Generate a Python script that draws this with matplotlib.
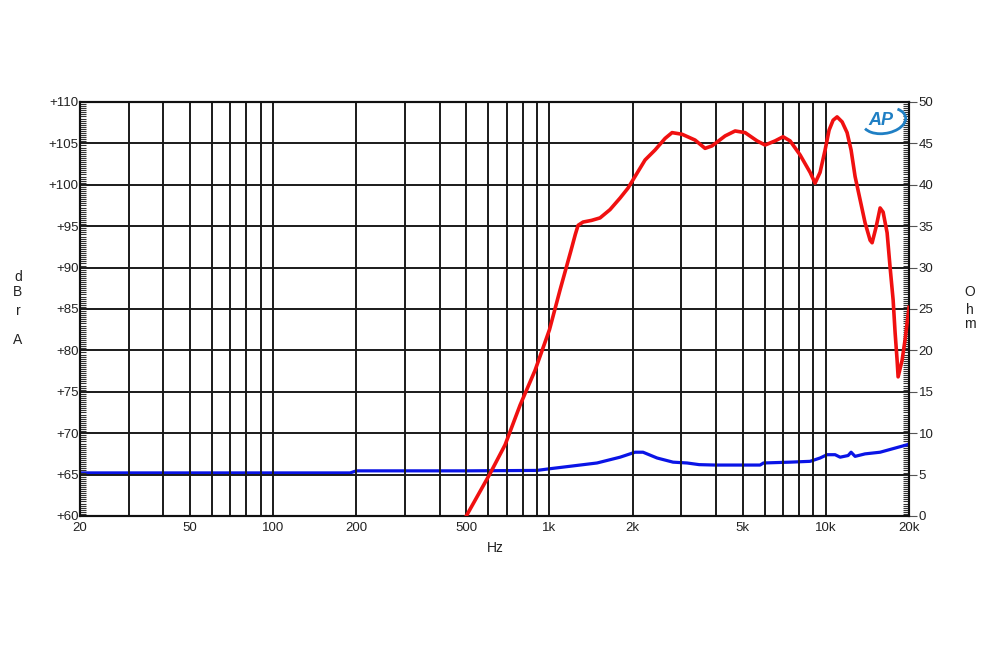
import matplotlib
matplotlib.use("Agg")
import matplotlib.pyplot as plt
import numpy as np
from matplotlib.ticker import FixedLocator, MultipleLocator, FuncFormatter
from matplotlib.patches import Arc

plt.rcParams['font.family'] = ['Liberation Sans', 'DejaVu Sans']

# response curve, dBrA (left axis)
spl_freq = [500, 609, 691, 783, 887, 1000, 1092, 1197, 1240, 1269, 1323, 1420, 1524, 1656, 1801,
            1924, 2006, 2218, 2410, 2620, 2777, 3020, 3364, 3656, 3876, 4320, 4696,
            5104, 5640, 6030, 6552, 7004, 7426, 8072, 8772, 9144, 9532, 9940, 10276,
            10626, 10986, 11454, 11940, 12344, 12762, 13306, 13872, 14464, 14708,
            15206, 15722, 16120, 16666, 17088, 17522, 17816, 18114, 18266, 18882,
            19360, 20000]
spl_db = [60.0, 65.1, 68.6, 73.4, 77.6, 82.5, 87.3, 92.1, 94.0, 95.1, 95.5, 95.7, 96.0, 97.0, 98.4,
          99.6, 100.6, 103.0, 104.2, 105.6, 106.3, 106.1, 105.4, 104.4, 104.7, 105.9, 106.5,
          106.3, 105.3, 104.8, 105.3, 105.8, 105.3, 103.6, 101.5, 100.2, 101.5, 104.2, 106.6,
          107.8, 108.2, 107.6, 106.3, 104.2, 101.0, 98.2, 95.4, 93.3, 93.0,
          94.9, 97.2, 96.7, 94.2, 90.0, 86.1, 82.1, 78.8, 76.8, 78.8,
          81.3, 85.2]

# impedance curve, Ohm (right axis)
imp_freq = [20, 50, 100, 190, 200, 500, 900, 1000, 1120, 1486, 1801, 2040, 2180, 2452,
            2800, 3146, 3480, 3976, 5782, 5950, 7426, 8772, 9532, 10106, 10804, 11266,
            12042, 12344, 12762, 13872, 15722, 17816, 19684, 20000]
imp_ohm = [5.2, 5.2, 5.2, 5.2, 5.45, 5.45, 5.5, 5.7, 5.9, 6.4, 7.1, 7.7, 7.7, 7.0,
           6.5, 6.4, 6.2, 6.15, 6.15, 6.4, 6.5, 6.6, 7.0, 7.4, 7.4, 7.1,
           7.3, 7.7, 7.2, 7.5, 7.7, 8.2, 8.6, 8.7]

grid_freqs = [m * 10 ** e for e in range(1, 5) for m in range(1, 10)]
grid_freqs = [f for f in grid_freqs if 20 <= f <= 20000]
x_labels = {20: "20", 50: "50", 100: "100", 200: "200", 500: "500",
            1000: "1k", 2000: "2k", 5000: "5k", 10000: "10k", 20000: "20k"}

fig = plt.figure(figsize=(10, 6.5), dpi=100)
ax = fig.add_axes([0.08, 0.2062, 0.829, 0.6369])
ax2 = ax.twinx()

ax.set_xscale("log")
ax.set_xlim(20, 20000)
ax.set_ylim(60, 110)
ax2.set_ylim(0, 50)

ax.xaxis.set_major_locator(FixedLocator(grid_freqs))
ax.xaxis.set_minor_locator(FixedLocator([]))
ax.xaxis.set_major_formatter(FuncFormatter(lambda v, p: x_labels.get(int(round(v)), "")))
ax.yaxis.set_major_locator(MultipleLocator(5))
ax.yaxis.set_minor_locator(MultipleLocator(0.25))
ax.yaxis.set_major_formatter(FuncFormatter(lambda v, p: f"+{v:.0f}"))
ax2.yaxis.set_major_locator(MultipleLocator(5))
ax2.yaxis.set_minor_locator(MultipleLocator(0.25))

ax.grid(True, which="major", color="#1a1a1a", linewidth=1.4)
ax.tick_params(axis="x", which="major", length=0, pad=4, labelsize=9.5, labelcolor="#222222")
ax.tick_params(axis="y", which="major", length=0, pad=1, labelsize=9.5, labelcolor="#222222")
ax.tick_params(axis="y", which="minor", direction="in", length=4, width=0.8, color="#333333")
ax2.tick_params(axis="y", which="major", direction="out", length=6, width=0.8, pad=1,
                labelsize=9.5, color="#555555", labelcolor="#222222")
ax2.tick_params(axis="y", which="minor", direction="in", length=4, width=0.8, color="#333333")

for a in (ax, ax2):
    for s in a.spines.values():
        s.set_linewidth(1.5)
        s.set_color("#111111")

ax2.plot(imp_freq, imp_ohm, color="#0a14e6", linewidth=2.3, zorder=3)
ax.plot(spl_freq, spl_db, color="#f01010", linewidth=2.6, zorder=4)
ax.set_zorder(ax2.get_zorder() + 1)
ax.patch.set_visible(False)

# axis titles as stacked letters
for ch, y in [("d", 277), ("B", 292), ("r", 311), ("A", 340)]:
    fig.text(18 / 1000, 1 - y / 650, ch, fontsize=10, ha="center", va="center", color="#222222")
for ch, y in [("O", 292), ("h", 310), ("m", 324)]:
    fig.text(970 / 1000, 1 - y / 650, ch, fontsize=10, ha="center", va="center", color="#222222")
fig.text(495 / 1000, 1 - 548 / 650, "Hz", fontsize=10, ha="center", va="center", color="#222222")

# AP logo
ax.text(0.966, 0.975, "AP", transform=ax.transAxes, color="#1f7fc4", fontsize=13,
        fontweight="bold", style="italic", ha="center", va="top")
logo = Arc((0.970, 0.955), 0.05, 0.065, angle=-20, theta1=-120, theta2=80,
           transform=ax.transAxes, color="#1f7fc4", linewidth=2.0)
ax.add_patch(logo)

fig.savefig("out.png", dpi=100)
